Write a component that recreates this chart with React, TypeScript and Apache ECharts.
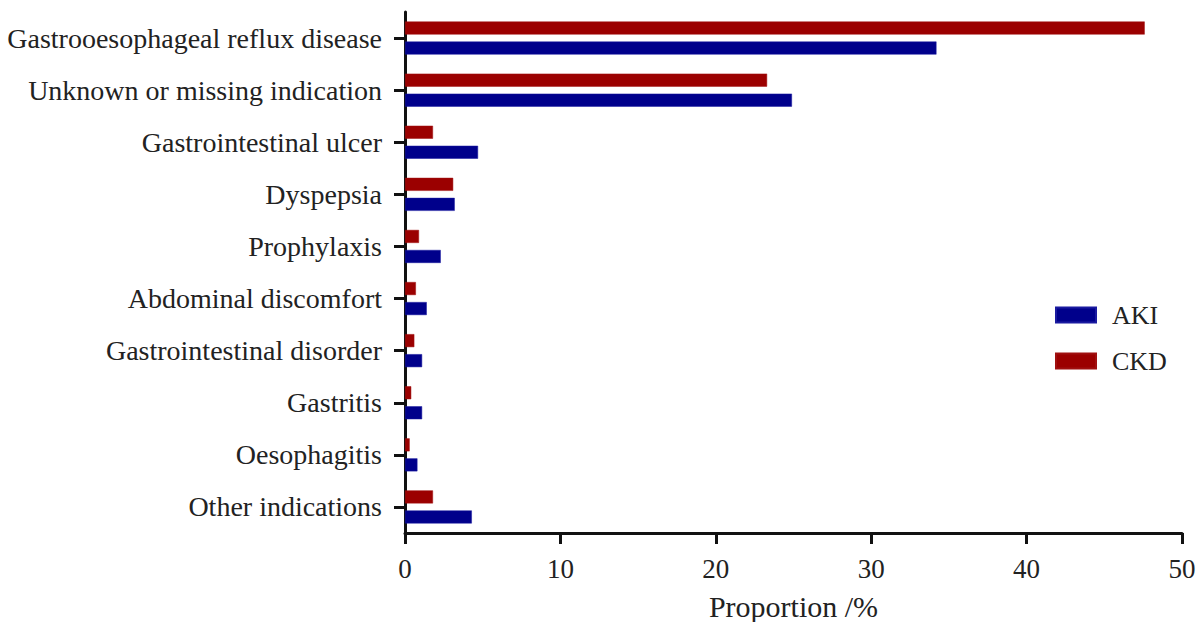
import React, { useEffect, useRef } from "react";
import * as echarts from "echarts";

const categories = [
  "Gastrooesophageal reflux disease",
  "Unknown or missing indication",
  "Gastrointestinal ulcer",
  "Dyspepsia",
  "Prophylaxis",
  "Abdominal discomfort",
  "Gastrointestinal disorder",
  "Gastritis",
  "Oesophagitis",
  "Other indications",
];
const akiValues = [34.2, 24.9, 4.7, 3.2, 2.3, 1.4, 1.1, 1.1, 0.8, 4.3];
const ckdValues = [47.6, 23.3, 1.8, 3.1, 0.9, 0.7, 0.6, 0.4, 0.3, 1.8];
const xTicks = [0, 10, 20, 30, 40, 50];

const FONT = "'Liberation Serif', 'Times New Roman', serif";

export default function App() {
  const ref = useRef<HTMLDivElement>(null);
  useEffect(() => {
    if (!ref.current) return;
    const chart = echarts.init(ref.current, undefined, { renderer: "svg" });
    chart.setOption({
      animation: false,
      backgroundColor: "#ffffff",
      grid: {
        left: 405,
        right: 16,
        top: 12,
        bottom: 89,
        containLabel: false,
        outerBoundsMode: "none",
      },
      legend: {
        orient: "vertical",
        left: 1050,
        top: 297,
        itemWidth: 40,
        itemHeight: 15,
        itemGap: 20,
        icon: "rect",
        data: ["AKI", "CKD"],
        textStyle: { fontFamily: FONT, fontSize: 26, color: "#222", padding: [0, 0, 0, 11] },
      },
      xAxis: {
        type: "value",
        min: xTicks[0],
        max: xTicks[xTicks.length - 1],
        interval: 10,
        name: "Proportion /%",
        nameLocation: "middle",
        nameGap: 58,
        nameTextStyle: { fontFamily: FONT, fontSize: 30, color: "#222" },
        axisLine: { show: true, lineStyle: { color: "#111", width: 3 } },
        axisTick: { show: true, length: 11, lineStyle: { color: "#111", width: 3 } },
        axisLabel: { fontFamily: FONT, fontSize: 27, color: "#222", margin: 22 },
        splitLine: { show: false },
      },
      yAxis: {
        type: "category",
        data: categories,
        inverse: true,
        axisLine: { show: true, lineStyle: { color: "#111", width: 3 } },
        axisTick: { show: true, length: 11, alignWithLabel: true, lineStyle: { color: "#111", width: 3 } },
        axisLabel: { fontFamily: FONT, fontSize: 28, color: "#222", margin: 23 },
      },
      series: [
        {
          name: "CKD",
          type: "bar",
          data: ckdValues,
          barWidth: 13,
          barGap: "54%",
          itemStyle: { color: "#9b0000", borderColor: "#a01010", borderWidth: 0.5 },
        },
        {
          name: "AKI",
          type: "bar",
          data: akiValues,
          barWidth: 13,
          barGap: "54%",
          itemStyle: { color: "#00008b", borderColor: "#1a1aa0", borderWidth: 0.5 },
        },
      ],
    });
    return () => chart.dispose();
  }, []);
  return (
    <div
      ref={ref}
      style={{ position: "absolute", left: 0, top: 0, width: 1198, height: 622 }}
    />
  );
}
